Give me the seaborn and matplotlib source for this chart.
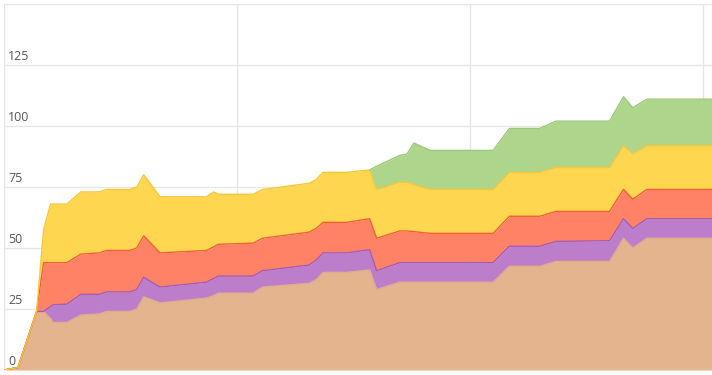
import numpy as np
import matplotlib
matplotlib.use("Agg")
import matplotlib.pyplot as plt
import seaborn as sns

# --- Data ---
days = [0.0, 0.6, 1.4, 1.7, 2.0, 2.1, 2.7, 3.3, 4.1, 4.4, 5.4, 5.7, 6.0, 6.7,
        8.7, 9.0, 9.2, 10.7, 11.1, 13.1, 13.4, 13.7, 14.7, 15.7, 16.0, 17.0,
        17.3, 17.6, 18.3, 21.0, 21.7, 23.0, 23.7, 26.0, 26.6, 27.0, 27.6, 30.4]

tan = [0, 1, 24, 24, 21, 19.5, 19.5, 22.5, 23, 24, 24, 25, 30, 27.5,
       29.5, 30.5, 31.5, 31.5, 34, 35.5, 37, 40, 40, 41, 33, 36,
       36, 36, 36, 36, 42.5, 42.5, 44.5, 44.5, 54, 50, 54, 54]
purple = [0, 0, 0, 0, 5, 7.2, 7.5, 8.5, 8, 8, 8, 8, 8, 6.5,
          6.5, 7, 7, 7, 6.7, 7.5, 8, 8, 8, 8.3, 7.7, 8,
          8, 8, 8, 8, 8.2, 8.2, 8.2, 8.5, 8, 8, 8, 8]
red = [0, 0, 0, 20, 18, 17.3, 17, 16.5, 17, 17, 17, 17, 17, 14,
       13, 13, 13, 13.5, 13.3, 13.5, 13, 12.5, 12.5, 12.7, 13.3, 13,
       13, 12.7, 12, 12, 12.3, 12.3, 12.3, 12, 12, 12, 12, 12]
yellow = [0, 0, 0, 13.5, 24, 24, 24, 25.5, 25, 25, 25, 25, 25, 23,
          22, 22.5, 20.5, 20, 20, 20, 20, 20.5, 20.5, 20, 20, 20,
          20, 19.3, 18, 18, 18, 18, 18, 18, 18, 18.5, 18, 18]
green = [None] * 23 + [0, 9.5, 11, 11.5, 17, 16, 16, 18, 18, 19, 19, 20, 19, 19, 19]

series = [tan, purple, red, yellow, green]
fills = ["#E4B48E", "#BC7ECB", "#FF8266", "#FFD64F", "#ADD58C"]
edges = ["#E0AD86", "#A65BB8", "#EE6236", "#F5C73A", "#9CC97A"]

y_ticks = [0, 25, 50, 75, 100, 125]

# --- Plot ---
sns.set_style("whitegrid")
fig = plt.figure(figsize=(7.12, 3.75), dpi=100)
ax = fig.add_axes([4 / 712, 5 / 375, 708 / 712, 366 / 375])

x = np.array(days)
base = np.zeros(len(days))
for vals, fc, ec in zip(series, fills, edges):
    v = np.array([np.nan if s is None else s for s in vals], dtype=float)
    top = base + v
    ax.fill_between(x, base, top, color=fc, linewidth=0, zorder=2)
    ax.plot(x, top, color=ec, linewidth=1.0, zorder=3)
    base = np.where(np.isnan(top), base, top)

ax.set_xlim(0, 30.4)
ax.set_ylim(0, 150)
ax.set_xticks([0, 10, 20, 30])
ax.set_yticks(y_ticks + [150])
ax.set_xticklabels([])
ax.set_yticklabels([])
ax.tick_params(length=0)
ax.grid(True, color="#e6e6e6", linewidth=1)
for sp in ax.spines.values():
    sp.set_visible(False)

# y labels sit inside the plot, just above their grid lines
for t in y_ticks:
    ax.text(0.006, t + 0.8, str(t), transform=ax.get_yaxis_transform(),
            ha="left", va="bottom", fontsize=9, color="#555555",
            family="Open Sans", zorder=4)

fig.savefig("out.png", dpi=100)
